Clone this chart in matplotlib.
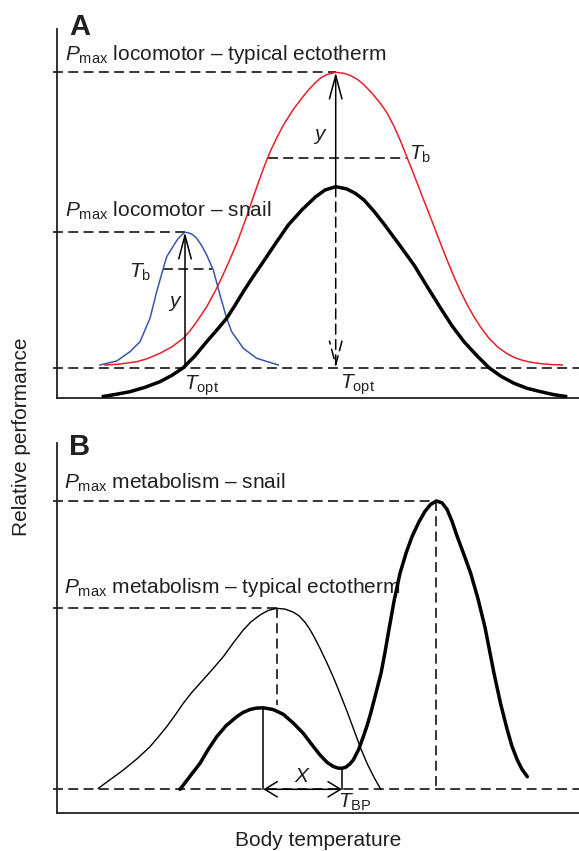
import matplotlib
matplotlib.use("Agg")
import matplotlib.pyplot as plt

plt.rcParams['font.family'] = ['Liberation Sans', 'DejaVu Sans']
plt.rcParams['mathtext.fontset'] = 'custom'
plt.rcParams['mathtext.rm'] = 'Liberation Sans'
plt.rcParams['mathtext.it'] = 'Liberation Sans:italic'

# --- panel A: locomotor performance curves (temperature, performance) ---
red_x = [48.0, 60.0, 70.0, 79.7, 90.0, 103.0, 115.0, 126.3, 133.0, 139.7, 150.0, 159.7,
         166.0, 173.0, 181.0, 189.7, 195.0, 199.7, 204.0, 209.0, 214.0, 220.0, 226.3,
         236.0, 246.3, 252.0, 258.7, 264.0, 270.0, 279.0, 287.0, 294.0, 300.3, 307.0,
         315.0, 323.7, 330.0, 337.0, 343.0, 350.0, 356.0, 361.0, 367.0, 373.7, 380.0,
         386.0, 391.0, 397.0, 404.0, 410.0, 417.0, 423.7, 432.0, 441.0, 450.3, 458.0,
         466.0, 473.7, 485.0, 495.0, 505.3]
red_y = [33.3, 34.0, 35.2, 36.6, 39.5, 45.0, 51.5, 60.0, 67.5, 76.6, 92.0, 110.0,
         123.5, 139.0, 158.0, 182.0, 197.5, 211.0, 223.0, 236.5, 248.5, 261.0, 273.0,
         288.5, 302.0, 309.0, 316.0, 320.5, 323.8, 326.0, 325.0, 322.5, 319.0, 313.5,
         305.0, 294.5, 285.5, 272.0, 258.5, 241.0, 226.0, 213.0, 197.5, 180.5, 164.0,
         148.5, 136.0, 121.5, 106.0, 94.0, 81.5, 71.0, 60.0, 51.0, 44.5, 40.5,
         37.8, 36.0, 34.5, 33.7, 33.3]

black_x = [44.7, 58.0, 73.0, 88.0, 103.0, 115.0, 126.3, 138.0, 149.7, 160.0, 169.7, 178.0,
           186.3, 196.0, 206.3, 219.0, 231.3, 245.0, 258.7, 268.0, 278.7, 290.0, 299.0,
           307.0, 317.0, 327.0, 342.0, 357.0, 370.0, 383.7, 395.0, 407.0, 420.0, 432.0,
           444.0, 457.0, 470.0, 483.7, 497.0, 510.3]
black_y = [1.6, 3.8, 6.6, 11.0, 16.6, 23.0, 30.6, 42.5, 56.6, 68.5, 80.0, 93.0,
           106.6, 121.5, 136.6, 155.5, 173.3, 188.5, 201.6, 208.3, 211.6, 209.3, 204.5,
           198.3, 187.0, 174.3, 154.0, 133.3, 112.0, 90.0, 72.5, 56.6, 42.5, 30.6,
           22.0, 15.0, 10.0, 6.6, 3.6, 1.6]

blue_x = [43.0, 59.7, 73.0, 83.0, 93.0, 99.7, 106.3, 109.7, 118.0, 121.0, 124.7, 128.0,
          131.5, 135.5, 139.7, 144.5, 149.7, 156.3, 163.0, 169.7, 174.7, 186.3, 199.7, 221.3]
blue_y = [33.3, 37.3, 46.6, 56.6, 80.0, 106.6, 130.0, 141.6, 155.0, 159.5, 163.3, 166.0,
          165.6, 163.8, 160.0, 153.0, 143.3, 128.3, 103.3, 80.0, 66.6, 50.0, 40.0, 33.3]

base_a = 30.6                     # reference performance level
topt_snail = 128.0
tb_red = (210.5, 350.0, 240.0)    # x from, x to, level
tb_blue = (106.3, 154.7, 129.0)

# --- panel B: metabolic curves ---
ecto_x = [41.3, 53.0, 66.3, 80.0, 93.0, 101.0, 109.7, 118.0, 126.3, 134.5, 143.0, 155.0,
          166.3, 176.0, 186.3, 194.0, 203.0, 211.0, 219.7, 228.0, 236.0, 242.0, 248.0,
          252.5, 257.0, 263.0, 270.0, 277.0, 283.7, 290.0, 296.5, 303.7, 310.0, 317.0, 323.7]
ecto_y = [25.0, 33.5, 43.3, 54.5, 66.6, 76.0, 86.6, 98.0, 110.0, 120.5, 130.0, 143.5,
          156.6, 170.0, 183.3, 191.5, 198.3, 202.8, 205.0, 204.2, 201.3, 197.5, 191.0,
          184.5, 176.6, 165.0, 150.3, 134.5, 118.0, 102.0, 84.5, 65.0, 50.0, 36.0, 24.0]

snail_x = [123.0, 133.0, 143.0, 151.0, 159.7, 169.0, 179.7, 186.0, 193.0, 199.5, 206.3,
           216.0, 226.3, 236.0, 246.3, 255.0, 263.0, 270.0, 276.3, 281.0, 285.0, 289.0,
           293.0, 296.3, 301.5, 306.3, 310.0, 313.7, 318.5, 324.0, 328.0, 332.0, 337.0,
           343.0, 349.0, 355.0, 362.0, 368.0, 373.5, 379.3, 385.0, 390.0, 395.0, 400.3,
           407.0, 413.7, 421.0, 428.0, 432.5, 437.0, 443.5, 450.3, 455.0, 460.3, 465.0, 470.3]
snail_y = [24.0, 37.0, 50.0, 63.5, 76.6, 87.5, 96.6, 100.8, 103.8, 105.2, 105.5,
           103.8, 99.0, 90.5, 80.0, 68.5, 58.3, 51.0, 46.8, 45.2, 45.0, 46.2,
           49.5, 53.3, 63.5, 76.6, 87.5, 100.0, 118.5, 140.0, 161.0, 184.0, 212.0,
           240.0, 260.0, 276.6, 291.5, 302.0, 308.8, 312.3, 310.5, 304.0, 292.0, 276.6,
           258.5, 240.0, 214.5, 186.0, 163.0, 140.0, 110.0, 83.3, 67.0, 53.3, 44.0, 36.6]

base_b = 24.0
ecto_dash_end = 108.3

TXT = '#231f20'
DASH = (0, (6.5, 3.5))
W, H = 579, 851

fig = plt.figure(figsize=(W / 100, H / 100), dpi=100)
axA = fig.add_axes([57 / W, (H - 398.3) / H, 522 / W, (398.3 - 29) / H])
axB = fig.add_axes([57 / W, (H - 813.3) / H, 522 / W, (813.3 - 443) / H])
axA.set_xlim(0, 522)
axA.set_ylim(0, 369.3)
axB.set_xlim(0, 522)
axB.set_ylim(0, 370.3)
for ax in (axA, axB):
    ax.spines['top'].set_visible(False)
    ax.spines['right'].set_visible(False)
    for side in ('left', 'bottom'):
        ax.spines[side].set_linewidth(1.3)
        ax.spines[side].set_color('#222222')
    ax.set_xticks([])
    ax.set_yticks([])
    ax.patch.set_visible(False)


def dashed_h(ax, x0, x1, y):
    ax.plot([x0, x1], [y, y], color='k', lw=1.1, linestyle=DASH, clip_on=False)


def dashed_v(ax, x, y0, y1):
    ax.plot([x, x], [y0, y1], color='k', lw=1.1, linestyle=DASH, clip_on=False)


def arrow(ax, x, y0, y1, style='->,head_length=1.7,head_width=0.45', ls='-'):
    ax.annotate('', xy=(x, y1), xytext=(x, y0),
                arrowprops=dict(arrowstyle=style, lw=1.1, color='k', linestyle=ls,
                                shrinkA=0, shrinkB=0))


# ---------------- panel A ----------------
i_red = red_y.index(max(red_y))
i_blk = black_y.index(max(black_y))
i_blu = blue_y.index(max(blue_y))

axA.plot(red_x, red_y, color='#e8202a', lw=1.1, zorder=3)
axA.plot(blue_x, blue_y, color='#3a56a5', lw=1.1, zorder=3)
axA.plot(black_x, black_y, color='k', lw=2.5, zorder=4, solid_capstyle='butt')

dashed_h(axA, -4, 522, base_a)
dashed_h(axA, -4, red_x[i_red], red_y[i_red])
dashed_h(axA, -4, blue_x[i_blu], blue_y[i_blu])
dashed_h(axA, tb_red[0], tb_red[1], tb_red[2])
dashed_h(axA, tb_blue[0], tb_blue[1], tb_blue[2])

# y: distance from Tb to the optimum
arrow(axA, black_x[i_blk], black_y[i_blk], red_y[i_red])
arrow(axA, topt_snail, base_a, blue_y[i_blu])
arrow(axA, black_x[i_blk], black_y[i_blk], base_a, ls=DASH)

tk = dict(fontsize=15, color=TXT, ha='left', va='baseline')
axA.text(12, 363.3, 'A', fontsize=21, fontweight='bold', color=TXT, ha='left',
         va='baseline', clip_on=False)
axA.text(8, 338.3, r'$\mathit{P}_{\mathrm{max}}$ locomotor – typical ectotherm', **tk)
axA.text(8, 181.6, r'$\mathit{P}_{\mathrm{max}}$ locomotor – snail', **tk)
axA.text(352, 238.3, r'$\mathit{T}_{\mathrm{b}}$', **tk)
axA.text(72, 120.6, r'$\mathit{T}_{\mathrm{b}}$', **tk)
axA.text(256, 258, r'$\mathit{y}$', **tk)
axA.text(111, 91.6, r'$\mathit{y}$', **tk)
axA.text(127, 8.3, r'$\mathit{T}_{\mathrm{opt}}$', **tk)
axA.text(283, 10, r'$\mathit{T}_{\mathrm{opt}}$', **tk)

# ---------------- panel B ----------------
i_eco = ecto_y.index(max(ecto_y))
i_snl = snail_y.index(max(snail_y))
i_lo = snail_y.index(max(snail_y[:20]))
i_min = snail_y.index(min(snail_y[10:30]))

axB.plot(ecto_x, ecto_y, color='k', lw=1.0, zorder=3)
axB.plot(snail_x, snail_y, color='k', lw=2.5, zorder=4, solid_capstyle='round')

dashed_h(axB, -4, 522, base_b)
dashed_h(axB, -4, snail_x[i_snl], snail_y[i_snl])
dashed_h(axB, -4, ecto_x[i_eco], ecto_y[i_eco])
dashed_v(axB, snail_x[i_snl], snail_y[i_snl], base_b)
dashed_v(axB, ecto_x[i_eco], ecto_y[i_eco], ecto_dash_end)

axB.plot([snail_x[i_lo]] * 2, [snail_y[i_lo], base_b], color='k', lw=1.1)
axB.plot([snail_x[i_min]] * 2, [snail_y[i_min], base_b], color='k', lw=1.1)
axB.annotate('', xy=(snail_x[i_min], base_b), xytext=(snail_x[i_lo], base_b),
             arrowprops=dict(arrowstyle='<->,head_length=0.9,head_width=0.55',
                             lw=1.1, color='k', shrinkA=0, shrinkB=0))

axB.text(12, 358.3, 'B', fontsize=21, fontweight='bold', color=TXT, ha='left',
         va='baseline', clip_on=False)
axB.text(7, 325, r'$\mathit{P}_{\mathrm{max}}$ metabolism – snail', **tk)
axB.text(7, 220, r'$\mathit{P}_{\mathrm{max}}$ metabolism – typical ectotherm', **tk)
axB.text(237, 31.6, r'$\mathit{X}$', **tk)
axB.text(281, 5.3, r'$\mathit{T}_{\mathrm{BP}}$', **tk)

fig.text(22 / W, 1 - 437 / H, 'Relative performance', rotation=90, fontsize=15,
         color=TXT, ha='center', va='center')
fig.text(318 / W, 1 - 840 / H, 'Body temperature', fontsize=15, color=TXT,
         ha='center', va='center')

fig.savefig('out.png', dpi=100)
